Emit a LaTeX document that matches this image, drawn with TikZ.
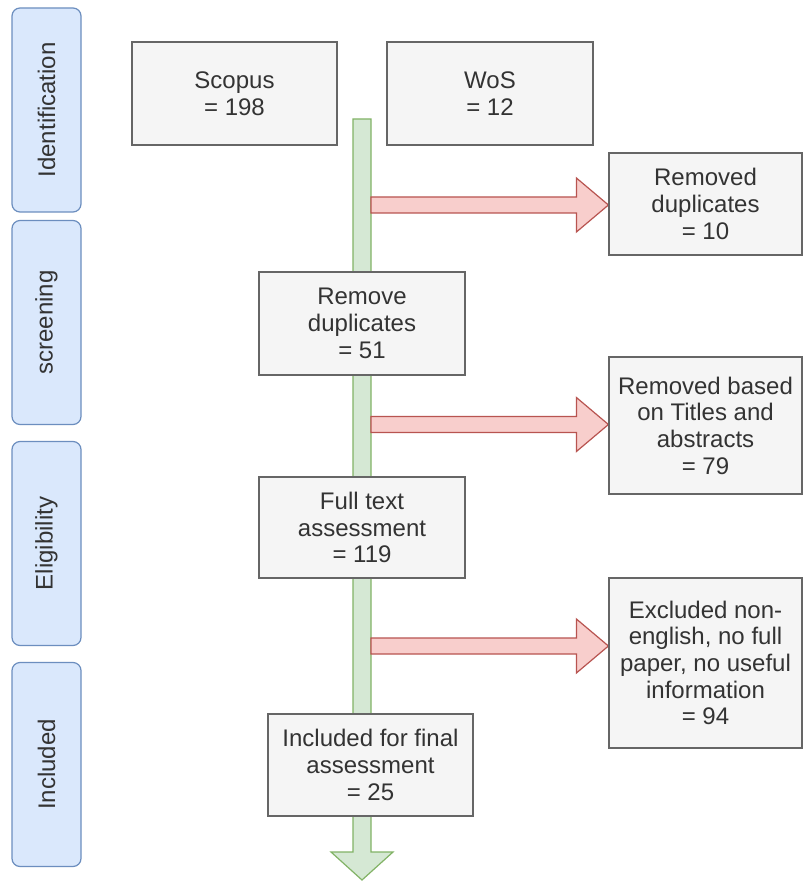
\documentclass[tikz,border=0pt]{standalone}
\usepackage{fontspec}
\setmainfont{Liberation Sans}
\usetikzlibrary{calc,backgrounds}
\definecolor{boxfill}{HTML}{F5F5F5}
\definecolor{boxline}{HTML}{666666}
\definecolor{boxtext}{HTML}{333333}
\definecolor{lanefill}{HTML}{DAE8FC}
\definecolor{laneline}{HTML}{6C8EBF}
\definecolor{greenfill}{HTML}{D5E8D4}
\definecolor{greenline}{HTML}{82B366}
\definecolor{redfill}{HTML}{F8CECC}
\definecolor{redline}{HTML}{B85450}
\newcommand\flexright[2]{%
  \path[redarrow] ($(#1)+(0,-8)$) -- ($(#2)+(-32,-8)$) -- ($(#2)+(-32,-27)$) -- (#2)
    -- ($(#2)+(-32,27)$) -- ($(#2)+(-32,8)$) -- ($(#1)+(0,8)$) -- cycle;}
\begin{document}
\begin{tikzpicture}[x=1pt,y=-1pt,
  txt/.style={font=\fontsize{24}{26.7}\selectfont, text=boxtext},
  box/.style={txt, draw=boxline, fill=boxfill, line width=1.2pt, inner sep=0pt, align=center},
  lane/.style={txt, draw=laneline, fill=lanefill, rounded corners=8pt, line width=1.2pt,
    rotate=90, minimum width=204pt, minimum height=69pt, inner sep=0pt},
  greenarrow/.style={draw=greenline, fill=greenfill, line width=1.2pt},
  redarrow/.style={draw=redline, fill=redfill, line width=1.2pt, line join=miter}
]
\useasboundingbox (0,0) rectangle (803,882);
\begin{scope}[on background layer]
  \fill[white] (0,0) rectangle (803,882);
\end{scope}

% phase lanes
\node[lane] (l1) at (46.5,110) {Identification};
\node[lane] (l2) at (46.5,322.5) {screening};
\node[lane] (l3) at (46.5,543.5) {Eligibility};
\node[lane] (l4) at (46.5,764.5) {Included};

% boxes
\node[box, minimum width=205pt, minimum height=103pt] (scopus) at (234.5,93.5) {Scopus\\= 198};
\node[box, minimum width=206pt, minimum height=103pt] (wos) at (490,93.5) {WoS\\= 12};
\node[box, minimum width=193pt, minimum height=102pt] (rd1) at (705.5,204) {Removed\\duplicates\\= 10};
\node[box, minimum width=206pt, minimum height=103pt] (sc) at (362,323.5) {Remove\\duplicates\\= 51};
\node[box, minimum width=193pt, minimum height=137pt] (rd2) at (705.5,425.5) {Removed based\\on Titles and\\abstracts\\= 79};
\node[box, minimum width=206pt, minimum height=101pt] (el) at (362,527.5) {Full text\\assessment\\= 119};
\node[box, minimum width=193pt, minimum height=170pt] (rd3) at (705.5,663) {Excluded non-\\english, no full\\paper, no useful\\information\\= 94};
\node[box, minimum width=205pt, minimum height=102pt] (inc) at (370.5,765) {Included for final\\assessment\\= 25};

% arrow anchors
\coordinate (gtop) at (362,119);
\coordinate (gtip) at (362,880);
\coordinate (gr) at (371,0);
\coordinate (t1) at ($(rd1.west)+(0,1)$);
\coordinate (t2) at ($(rd2.west)+(0,-1)$);
\coordinate (t3) at ($(rd3.west)+(0,-17)$);
\coordinate (s1) at (t1 -| gr);
\coordinate (s2) at (t2 -| gr);
\coordinate (s3) at (t3 -| gr);

\begin{scope}[on background layer]
  \path[greenarrow] ($(gtop)+(-9,0)$) -- ($(gtop)+(9,0)$) -- ($(gtip)+(9,-28)$)
    -- ($(gtip)+(31,-28)$) -- (gtip) -- ($(gtip)+(-31,-28)$) -- ($(gtip)+(-9,-28)$) -- cycle;
  \flexright{s1}{t1}
  \flexright{s2}{t2}
  \flexright{s3}{t3}
\end{scope}
\end{tikzpicture}
\end{document}
